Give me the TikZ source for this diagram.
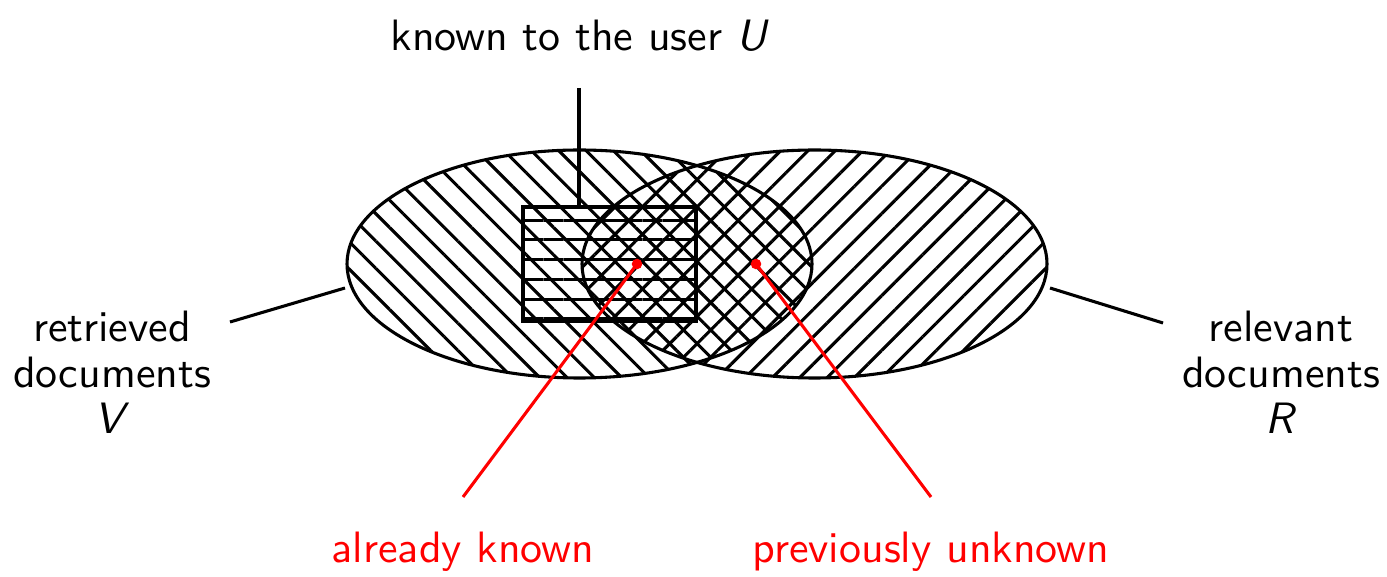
\documentclass[tikz,border=0pt]{standalone}
\usetikzlibrary{patterns.meta}

\begin{document}
\begin{tikzpicture}[
  x=1cm, y=1cm,
  every node/.style={inner sep=1pt, font=\sffamily},
  outline/.style={draw, line width=0.7pt},
  vhatch/.style={pattern={Lines[angle=-45, distance=4.4pt, line width=0.7pt]}},
  rhatch/.style={pattern={Lines[angle=45, distance=4.4pt, line width=0.7pt]}},
  uhatch/.style={draw, line width=1pt,
    pattern={Lines[angle=0, distance=4.5pt, line width=0.7pt]}},
  leader/.style={draw, line width=0.7pt},
  % red markers for the two parts of the overlap
  dot/.style={circle, fill=red, minimum size=2.4pt, inner sep=0pt},
  pointer/.style={draw=red, line width=0.7pt},
  setlabel/.style={align=center, font=\sffamily\linespread{0.87}\selectfont},
  redlabel/.style={text=red}]

  \useasboundingbox (0,0) rectangle (11.096,4.608);

  % the two sets
  \fill[vhatch] (4.636,2.496) ellipse [x radius=1.86, y radius=0.912];
  \fill[rhatch] (6.516,2.496) ellipse [x radius=1.86, y radius=0.912];
  \draw[outline] (4.636,2.496) ellipse [x radius=1.86, y radius=0.912];
  \draw[outline] (6.516,2.496) ellipse [x radius=1.86, y radius=0.912];

  % documents known to the user
  \node[uhatch, minimum width=1.384cm, minimum height=0.912cm, inner sep=0pt]
    (u) at (4.876,2.496) {};

  % labels
  \node (utxt) at (4.64,4.32) {known to the user \textit{U}};
  \node[setlabel] (vtxt) at (0.896,1.63) {retrieved\\documents\\\textit{V}};
  \node[setlabel] (rtxt) at (10.248,1.63) {relevant\\documents\\\textit{R}};
  \node[redlabel] (oldtxt) at (3.704,0.19) {already known};
  \node[redlabel] (newtxt) at (7.448,0.19) {previously unknown};

  % leader ends
  \coordinate (utop) at (4.632,3.904);
  \coordinate (ubot) at (4.632,2.952);
  \coordinate (vend) at (1.84,2.032);
  \coordinate (vrim) at (2.76,2.304);
  \coordinate (rrim) at (8.40,2.304);
  \coordinate (rend) at (9.304,2.024);
  \coordinate (oldend) at (3.704,0.632);
  \coordinate (newend) at (7.448,0.632);

  \draw[leader] (utop) -- (ubot);
  \draw[leader] (vend) -- (vrim);
  \draw[leader] (rrim) -- (rend);

  % red pointers
  \node[dot] (old) at (5.096,2.496) {};
  \node[dot] (new) at (6.048,2.496) {};
  \draw[pointer] (old.center) -- (oldend);
  \draw[pointer] (new.center) -- (newend);
\end{tikzpicture}
\end{document}
